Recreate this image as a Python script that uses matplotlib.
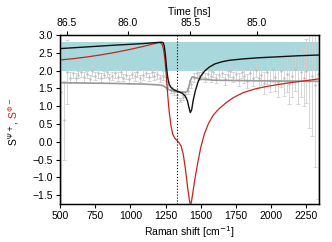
import numpy as np
import matplotlib
matplotlib.use('Agg')
import matplotlib.pyplot as plt

plt.rcParams['font.family'] = ['Liberation Sans', 'DejaVu Sans']
plt.rcParams['font.size'] = 7.5

# measured points (gray, with error bars)
shift_pts = np.arange(510, 2340, 20)
s_pts = [1.40, 0.60, 1.95, 1.80, 1.92, 1.78, 1.88, 1.95, 1.82, 1.90,
         1.76, 1.98, 1.85, 1.93, 1.80, 1.88, 1.95, 1.78, 1.86, 1.92,
         1.83, 1.97, 1.80, 1.89, 1.76, 1.90, 1.84, 1.95, 1.79, 1.88,
         1.93, 1.82, 1.96, 1.85, 1.90, 1.78, 1.86, 1.72, 1.58, 1.45,
         1.40, 1.32, 1.18, 1.25, 1.35, 1.42, 1.62, 1.80, 1.92, 1.85,
         1.97, 1.80, 1.90, 1.84, 1.95, 1.78, 1.88, 1.93, 1.76, 1.87,
         1.98, 1.82, 1.90, 1.75, 1.95, 1.84, 1.70, 1.92, 1.80, 2.02,
         1.78, 1.88, 1.65, 1.95, 1.75, 2.05, 1.82, 1.68, 1.98, 1.78,
         1.90, 1.62, 1.85, 2.05, 1.72, 1.95, 1.80, 2.00, 1.70, 1.85,
         1.60, 1.90]
s_err = [3.60, 1.10, 0.90, 0.15, 0.12, 0.14, 0.10, 0.12, 0.13, 0.10,
         0.12, 0.14, 0.11, 0.13, 0.12, 0.10, 0.14, 0.12, 0.11, 0.13,
         0.12, 0.15, 0.10, 0.12, 0.13, 0.11, 0.12, 0.14, 0.10, 0.13,
         0.12, 0.11, 0.14, 0.12, 0.13, 0.11, 0.12, 0.10, 0.10, 0.08,
         0.08, 0.08, 0.06, 0.07, 0.08, 0.09, 0.10, 0.12, 0.13, 0.12,
         0.14, 0.12, 0.11, 0.15, 0.13, 0.12, 0.14, 0.12, 0.15, 0.13,
         0.16, 0.14, 0.15, 0.17, 0.16, 0.18, 0.20, 0.18, 0.22, 0.20,
         0.25, 0.28, 0.30, 0.32, 0.35, 0.38, 0.40, 0.42, 0.45, 0.48,
         0.50, 0.55, 0.60, 0.62, 0.66, 0.70, 0.80, 0.90, 1.30, 1.70,
         2.30, 3.50]

# model curves
shift_psi = [500, 600, 700, 800, 900, 1000, 1100, 1150, 1200, 1220, 1232,
             1240, 1248, 1256, 1265, 1275, 1290, 1310, 1340, 1370, 1390,
             1405, 1415, 1425, 1435, 1445, 1460, 1480, 1500, 1530, 1560,
             1600, 1650, 1700, 1800, 1900, 2000, 2100, 2200, 2340]
s_psi = [2.62, 2.645, 2.67, 2.695, 2.72, 2.74, 2.765, 2.78, 2.795, 2.80, 2.79,
         2.70, 2.45, 2.10, 1.80, 1.62, 1.52, 1.46, 1.41, 1.36, 1.28,
         1.15, 0.97, 0.82, 0.90, 1.15, 1.42, 1.68, 1.85, 2.00, 2.10,
         2.19, 2.25, 2.29, 2.33, 2.36, 2.38, 2.40, 2.42, 2.44]

shift_phi = [500, 600, 700, 800, 900, 1000, 1100, 1150, 1190, 1210, 1225,
             1235, 1245, 1255, 1265, 1275, 1288, 1300, 1315, 1330, 1345,
             1360, 1375, 1390, 1405, 1418, 1427, 1436, 1448, 1462, 1480,
             1500, 1525, 1555, 1590, 1630, 1680, 1730, 1800, 1880, 1960,
             2050, 2150, 2250, 2340]
s_phi = [2.30, 2.34, 2.39, 2.45, 2.52, 2.60, 2.69, 2.74, 2.78, 2.79, 2.74,
         2.60, 2.30, 1.85, 1.30, 0.85, 0.45, 0.22, 0.10, 0.04, -0.03,
         -0.12, -0.35, -0.75, -1.25, -1.62, -1.80, -1.62, -1.30, -0.95, -0.55,
         -0.15, 0.22, 0.52, 0.76, 0.93, 1.10, 1.24, 1.38, 1.48, 1.55,
         1.61, 1.67, 1.72, 1.77]

shift_avg = [500, 700, 900, 1100, 1200, 1230, 1250, 1270, 1300, 1350, 1390,
             1405, 1415, 1425, 1438, 1450, 1470, 1500, 1600, 1800, 2000, 2340]
s_avg = [1.66, 1.65, 1.64, 1.62, 1.60, 1.58, 1.53, 1.47, 1.43, 1.41, 1.39,
         1.42, 1.55, 1.72, 1.82, 1.82, 1.79, 1.76, 1.73, 1.72, 1.71, 1.70]

band = (2.0, 2.8)
diamond_line = 1332
top_ticks_ns = ['86.5', '86.0', '85.5', '85.0']
top_ticks_shift = [547, 982, 1424, 1898]

fig = plt.figure(figsize=(3.32, 2.42), dpi=100)
ax = fig.add_axes([0.181, 0.157, 0.780, 0.698])

ax.axhspan(band[0], band[1], color='#a8d8db', lw=0, zorder=0)
ax.errorbar(shift_pts, s_pts, yerr=s_err, fmt='.', ms=1.5, color='#bdbdbd',
            ecolor='#d0d0d0', elinewidth=0.6, capsize=1.2, capthick=0.6, zorder=1)
ax.plot(shift_avg, s_avg, color='#9a9a9a', lw=1.2, zorder=2)
ax.plot(shift_phi, s_phi, color='#c4261d', lw=0.9, zorder=3)
ax.plot(shift_psi, s_psi, color='#111111', lw=1.0, zorder=4)
ax.axvline(diamond_line, color='black', ls=':', lw=0.8, zorder=5)

ax.set_xlim(500, 2340)
ax.set_ylim(-1.75, 3.0)
ax.set_xticks(np.arange(500, 2300, 250))
ax.set_yticks(np.arange(-1.5, 3.01, 0.5))
ax.set_xlabel('Raman shift [cm$^{-1}$]', labelpad=2)
ax.tick_params(direction='out', length=3, width=0.8, pad=2)
for sp in ax.spines.values():
    sp.set_linewidth(1.0)

top = ax.twiny()
top.set_xlim(ax.get_xlim())
top.set_xticks(top_ticks_shift)
top.set_xticklabels(top_ticks_ns)
top.set_xlabel('Time [ns]', labelpad=2)
top.tick_params(direction='out', length=3, width=0.8, pad=2)

# two-colour y label
fig.text(0.040, 0.508, 'S$^{\\Psi+}$, ', rotation=90, ha='center', va='top', color='black')
fig.text(0.040, 0.508, 'S$^{\\Phi-}$', rotation=90, ha='center', va='bottom', color='#c4261d')

fig.savefig('out.png', dpi=100)
